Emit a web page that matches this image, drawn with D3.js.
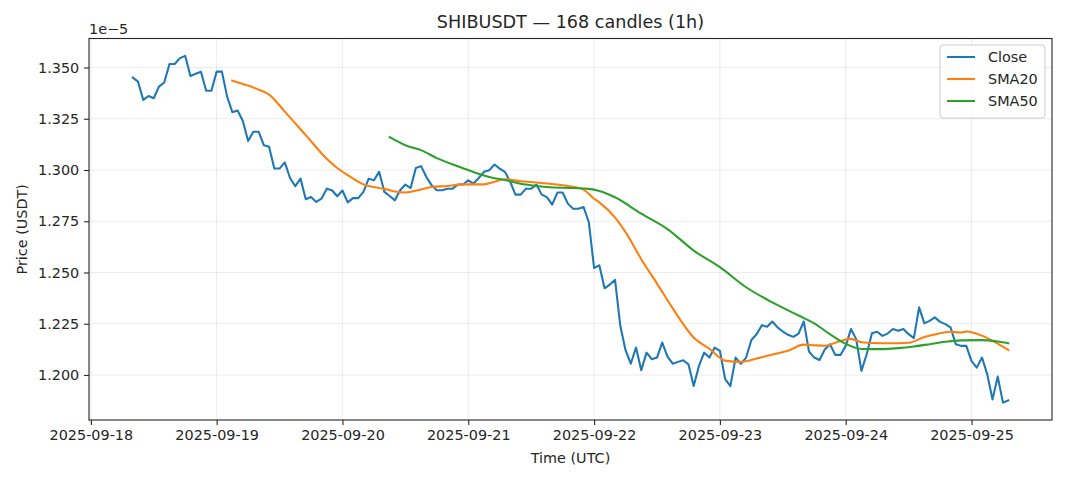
<!DOCTYPE html>
<html>
<head>
<meta charset="utf-8">
<script src="https://cdn.jsdelivr.net/npm/d3@7"></script>
<style>
  html, body { margin: 0; padding: 0; background: #ffffff; }
  svg { display: block; }
  text { font-family: "DejaVu Sans", sans-serif; fill: #262626; }
</style>
</head>
<body>
<svg id="chart" width="1068" height="481"></svg>
<script>
// ---------- data (prices in units of 1e-5 USDT) ----------
const startTime = "2025-09-18T08:00:00Z";   // first hourly candle
const title = "SHIBUSDT \u2014 168 candles (1h)";
const closeValues = [
  1.3451,1.3431,1.3342,1.3361,1.3350,1.3407,1.3427,1.3517,1.3517,1.3546,
  1.3557,1.3459,1.3470,1.3479,1.3387,1.3387,1.3480,1.3480,1.3358,1.3282,
  1.3290,1.3239,1.3141,1.3187,1.3187,1.3121,1.3113,1.3007,1.3007,1.3037,
  1.2961,1.2921,1.2958,1.2857,1.2868,1.2844,1.2860,1.2909,1.2901,1.2872,
  1.2900,1.2842,1.2863,1.2863,1.2893,1.2958,1.2950,1.2991,1.2893,1.2873,
  1.2852,1.2901,1.2929,1.2912,1.3010,1.3019,1.2966,1.2926,1.2901,1.2901,
  1.2909,1.2909,1.2929,1.2929,1.2950,1.2934,1.2961,1.2991,1.2999,1.3027,
  1.3007,1.2991,1.2942,1.2880,1.2880,1.2909,1.2909,1.2929,1.2880,1.2868,
  1.2831,1.2890,1.2890,1.2836,1.2811,1.2811,1.2819,1.2745,1.2522,1.2535,
  1.2423,1.2441,1.2464,1.2240,1.2121,1.2055,1.2134,1.2023,1.2109,1.2077,
  1.2085,1.2158,1.2090,1.2055,1.2064,1.2072,1.2052,1.1946,1.2044,1.2109,
  1.2085,1.2134,1.2118,1.1980,1.1946,1.2085,1.2055,1.2085,1.2171,1.2199,
  1.2243,1.2235,1.2261,1.2232,1.2212,1.2196,1.2186,1.2202,1.2261,1.2114,
  1.2085,1.2073,1.2124,1.2150,1.2098,1.2098,1.2142,1.2224,1.2175,1.2020,
  1.2101,1.2204,1.2211,1.2191,1.2202,1.2224,1.2216,1.2224,1.2199,1.2180,
  1.2330,1.2252,1.2264,1.2281,1.2259,1.2248,1.2232,1.2150,1.2142,1.2142,
  1.2068,1.2036,1.2085,1.2003,1.1881,1.1992,1.1865,1.1876
];
// SMA curves: candle index -> value
const sma20Index = [19,22,24,26,29,33,37,39,41,44,45,48,50,52,55,57,60,63,67,69,71,74,77,81,84,86,88,89,92,94,97,100,103,107,110,113,116,119,122,125,128,130,132,135,137,139,143,146,148,151,153,156,158,159,162,165,167];
const sma20Values = [1.3436,1.3412,1.3392,1.3368,1.3285,1.3170,1.3055,1.3010,1.2975,1.2930,1.2922,1.2908,1.2895,1.2890,1.2905,1.2917,1.2922,1.2930,1.2930,1.2943,1.2955,1.2945,1.2939,1.2929,1.2918,1.2904,1.2860,1.2842,1.2768,1.2697,1.2565,1.2446,1.2325,1.2183,1.2128,1.2070,1.2064,1.2080,1.2100,1.2118,1.2148,1.2145,1.2143,1.2166,1.2176,1.2160,1.2155,1.2155,1.2157,1.2185,1.2198,1.2211,1.2207,1.2212,1.2192,1.2153,1.2122];
const sma50Index = [49,52,55,58,62,65,68,71,75,79,84,87,89,92,97,102,107,112,117,122,127,130,133,136,139,143,146,149,152,155,158,162,165,167];
const sma50Values = [1.3160,1.3121,1.3097,1.3058,1.3018,1.2990,1.2966,1.2951,1.2929,1.2917,1.2912,1.2908,1.2898,1.2867,1.2787,1.2712,1.2607,1.2526,1.2428,1.2354,1.2290,1.2252,1.2199,1.2152,1.2127,1.2126,1.2131,1.2139,1.2150,1.2162,1.2169,1.2170,1.2163,1.2155];
const yTicks = [1.200,1.225,1.250,1.275,1.300,1.325,1.350];
const xTickLabels = ["2025-09-18","2025-09-19","2025-09-20","2025-09-21","2025-09-22","2025-09-23","2025-09-24","2025-09-25"];
const seriesNames = ["Close","SMA20","SMA50"];
const seriesColors = ["#1f77b4","#ff7f0e","#2ca02c"];

// ---------- layout ----------
const W = 1068, H = 481;
const plot = {left: 89, right: 1052, top: 38.5, bottom: 420};
const FS = "14.4px", FS_TITLE = "17.6px";
const svg = d3.select("#chart");
const HOUR = 3600 * 1000;
const t0 = new Date(startTime).getTime();
const toDate = i => new Date(t0 + i * HOUR);

const closeData = closeValues.map((v, i) => ({t: toDate(i), v}));
const sma20Data = sma20Index.map((k, j) => ({t: toDate(k), v: sma20Values[j]}));
const sma50Data = sma50Index.map((k, j) => ({t: toDate(k), v: sma50Values[j]}));

const tExt = d3.extent(closeData, d => d.t.getTime());
const tPad = (tExt[1] - tExt[0]) * 0.05;
const x = d3.scaleUtc()
  .domain([new Date(tExt[0] - tPad), new Date(tExt[1] + tPad)])
  .range([plot.left, plot.right]);
const allV = closeValues.concat(sma20Values, sma50Values);
const vExt = d3.extent(allV);
const vPad = (vExt[1] - vExt[0]) * 0.05;
const y = d3.scaleLinear()
  .domain([vExt[0] - vPad, vExt[1] + vPad])
  .range([plot.bottom, plot.top]);

const xTickDates = xTickLabels.map(s => new Date(s + "T00:00:00Z"));

// grid
const grid = svg.append("g");
grid.selectAll("line.gy").data(yTicks).enter().append("line")
  .attr("x1", plot.left).attr("x2", plot.right)
  .attr("y1", d => y(d)).attr("y2", d => y(d))
  .attr("stroke", "#b0b0b0").attr("stroke-opacity", 0.3).attr("stroke-width", 0.8);
grid.selectAll("line.gx").data(xTickDates).enter().append("line")
  .attr("y1", plot.top).attr("y2", plot.bottom)
  .attr("x1", d => x(d)).attr("x2", d => x(d))
  .attr("stroke", "#b0b0b0").attr("stroke-opacity", 0.3).attr("stroke-width", 0.8);

// lines
const line = d3.line().x(d => x(d.t)).y(d => y(d.v));
const smooth = d3.line().x(d => x(d.t)).y(d => y(d.v)).curve(d3.curveMonotoneX);
svg.append("defs").append("clipPath").attr("id", "clip")
  .append("rect").attr("x", plot.left).attr("y", plot.top)
  .attr("width", plot.right - plot.left).attr("height", plot.bottom - plot.top);
const lines = svg.append("g").attr("clip-path", "url(#clip)");
lines.append("path").datum(closeData).attr("d", line)
  .attr("fill", "none").attr("stroke", seriesColors[0]).attr("stroke-width", 2.08)
  .attr("stroke-linejoin", "round").attr("stroke-linecap", "square");
lines.append("path").datum(sma20Data).attr("d", smooth)
  .attr("fill", "none").attr("stroke", seriesColors[1]).attr("stroke-width", 2.08)
  .attr("stroke-linejoin", "round").attr("stroke-linecap", "square");
lines.append("path").datum(sma50Data).attr("d", smooth)
  .attr("fill", "none").attr("stroke", seriesColors[2]).attr("stroke-width", 2.08)
  .attr("stroke-linejoin", "round").attr("stroke-linecap", "square");

// axes
const fmtY = d3.format(".3f");
const yAxis = d3.axisLeft(y).tickValues(yTicks).tickFormat(fmtY).tickSizeOuter(0).tickSize(4.9).tickPadding(4.9);
const xAxis = d3.axisBottom(x).tickValues(xTickDates).tickFormat((d, i) => xTickLabels[i]).tickSizeOuter(0).tickSize(4.9).tickPadding(4.9);
const gy = svg.append("g").attr("transform", `translate(${plot.left},0)`).call(yAxis);
const gx = svg.append("g").attr("transform", `translate(0,${plot.bottom})`).call(xAxis);
[gy, gx].forEach(g => {
  g.select(".domain").remove();
  g.selectAll(".tick line").attr("stroke", "#262626").attr("stroke-width", 1.1);
  g.selectAll(".tick text").attr("font-size", FS).attr("font-family", "DejaVu Sans").attr("fill", "#262626");
});

// frame
svg.append("rect").attr("x", plot.left).attr("y", plot.top)
  .attr("width", plot.right - plot.left).attr("height", plot.bottom - plot.top)
  .attr("fill", "none").attr("stroke", "#262626").attr("stroke-width", 1.1);

// texts
svg.append("text").attr("x", (plot.left + plot.right) / 2).attr("y", 28)
  .attr("text-anchor", "middle").attr("font-size", FS_TITLE).text(title);
svg.append("text").attr("x", plot.left).attr("y", 34)
  .attr("font-size", FS).text("1e\u22125");
svg.append("text").attr("x", (plot.left + plot.right) / 2).attr("y", 463)
  .attr("text-anchor", "middle").attr("font-size", FS).text("Time (UTC)");
svg.append("text").attr("transform", `translate(27,${(plot.top + plot.bottom) / 2}) rotate(-90)`)
  .attr("text-anchor", "middle").attr("font-size", FS).text("Price (USDT)");

// legend
const lg = svg.append("g").attr("transform", "translate(940,45)");
lg.append("rect").attr("x", 0).attr("y", 0).attr("width", 105).attr("height", 73)
  .attr("rx", 3).attr("fill", "#ffffff").attr("fill-opacity", 0.8)
  .attr("stroke", "#cccccc").attr("stroke-width", 1);
seriesNames.forEach((name, i) => {
  const yy = 12 + i * 22;
  lg.append("line").attr("x1", 7).attr("x2", 35).attr("y1", yy).attr("y2", yy)
    .attr("stroke", seriesColors[i]).attr("stroke-width", 2.08);
  lg.append("text").attr("x", 48).attr("y", yy + 5).attr("font-size", FS).text(name);
});
</script>
</body>
</html>
